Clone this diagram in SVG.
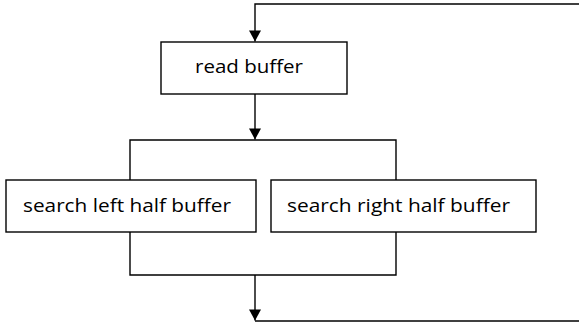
<svg xmlns="http://www.w3.org/2000/svg" width="579" height="325" viewBox="0 0 579 325">
<defs>
<style>
.box{fill:#fff;stroke:#000;stroke-width:1.4}
.ln{fill:none;stroke:#000;stroke-width:1.4}
text{font-family:"Open Sans","Liberation Sans",sans-serif;font-size:19px;fill:#000}
</style>
<marker id="ah" markerWidth="14" markerHeight="14" refX="11" refY="6" orient="auto" markerUnits="userSpaceOnUse" overflow="visible">
<path d="M0,0 L11,6 L0,12 Z" fill="#000"/>
</marker>
</defs>
<rect width="579" height="325" fill="#fff"/>
<g id="connectors">
<path class="ln" d="M255,321 H579"/>
<path class="ln" d="M579,4 H255 V41.5" marker-end="url(#ah)"/>
<path class="ln" d="M255,94 V139.5" marker-end="url(#ah)"/>
<path class="ln" d="M130,180 V140 H396 V180"/>
<path class="ln" d="M130,232 V275 H396 V232"/>
<path class="ln" d="M255,275 V320.5" marker-end="url(#ah)"/>
</g>
<g id="read-buffer">
<rect class="box" x="161" y="42" width="186" height="52"/>
<text x="195" y="73" textLength="108" lengthAdjust="spacingAndGlyphs">read buffer</text>
</g>
<g id="search-left">
<rect class="box" x="6" y="180" width="250" height="52"/>
<text x="23" y="212" textLength="208" lengthAdjust="spacingAndGlyphs">search left half buffer</text>
</g>
<g id="search-right">
<rect class="box" x="271" y="180" width="265" height="52"/>
<text x="287" y="212" textLength="223" lengthAdjust="spacingAndGlyphs">search right half buffer</text>
</g>
</svg>
